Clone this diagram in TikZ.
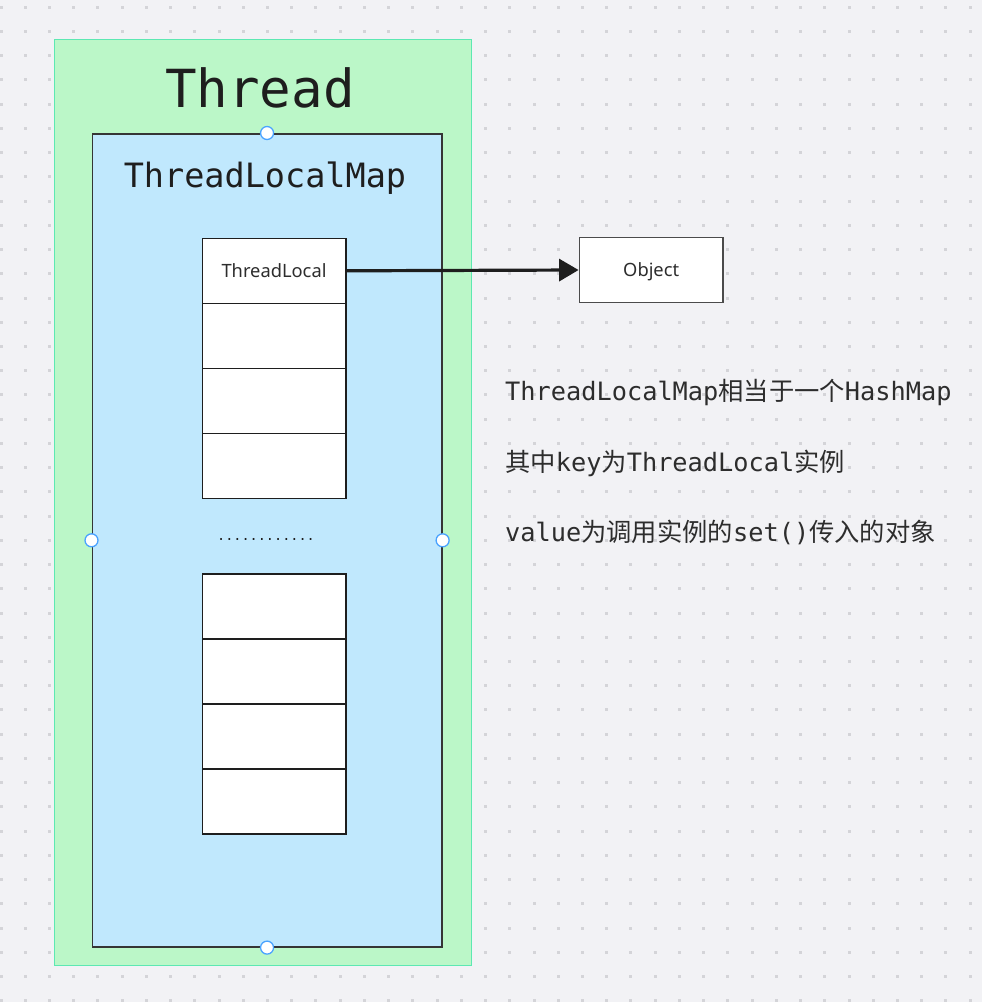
\documentclass[tikz,border=0pt]{standalone}
\usepackage{fontspec}
\setmainfont{Noto Sans}
\setmonofont{DejaVu Sans Mono}
\newfontfamily\cjk{Noto Sans CJK SC}
\usetikzlibrary{arrows.meta}
\definecolor{bgc}{RGB}{242,242,245}
\definecolor{dotc}{RGB}{212,212,216}
\definecolor{greenfill}{RGB}{187,247,200}
\definecolor{greenline}{RGB}{93,232,178}
\definecolor{bluefill}{RGB}{192,232,253}
\definecolor{handleblue}{RGB}{74,163,255}
\definecolor{ink}{RGB}{30,30,30}
\definecolor{txt}{RGB}{45,45,45}
\tikzset{
  threadbox/.style={draw=greenline, fill=greenfill, line width=1.2pt, rectangle, inner sep=0pt, minimum width=417pt, minimum height=926pt},
  mapbox/.style={draw=ink!90, fill=bluefill, line width=1.6pt, rectangle, inner sep=0pt, minimum width=349.5pt, minimum height=813pt},
  cellbox/.style={draw=ink, fill=white, line width=1.5pt, rectangle, inner sep=0pt, minimum width=143.5pt, minimum height=65pt, text depth=0pt, font=\fontsize{18.3}{22}\selectfont, text=txt},
  objbox/.style={draw=ink!80, fill=white, line width=1.5pt, rectangle, inner sep=0pt, minimum width=143.7pt, minimum height=64.6pt, text depth=0pt, font=\fontsize{18.3}{22}\selectfont, text=txt},
  handle/.style={circle, draw=handleblue, fill=white, line width=1.3pt, minimum size=13pt, inner sep=0pt},
  arrowline/.style={draw=ink, line width=3.2pt, -{Triangle[length=19.5pt,width=22pt]}},
  notetext/.style={anchor=base west, inner sep=0pt, text=txt, font=\ttfamily\fontsize{25.3}{30}\selectfont},
}
\begin{document}
\begin{tikzpicture}[x=1pt,y=-1pt]
\useasboundingbox[fill=bgc] (0,0) rectangle (982,1002);
\foreach \i in {0,...,40}{
  \foreach \j in {0,...,41}{
    \fill[dotc] ({1+24.23*\i-1.5},{7.3+24.23*\j-1.5}) rectangle ++(3,3);
  }
}
\node[threadbox, anchor=north west] (thread) at (53.5,39) {};
\node[anchor=base, inner sep=0pt, text=ink, font=\ttfamily\fontsize{52.5}{60}\selectfont] (title) at (260,107) {Thread};
\node[mapbox, anchor=north west] (map) at (91.5,133) {};
\node[anchor=base, inner sep=0pt, text=ink, font=\ttfamily\fontsize{33.5}{40}\selectfont] (maptitle) at (265,187) {ThreadLocalMap};
\node[cellbox] (c1) at (274,270.8) {ThreadLocal};
\node[cellbox] (c2) at (274,335.8) {};
\node[cellbox] (c3) at (274,400.8) {};
\node[cellbox] (c4) at (274,465.8) {};
\node[anchor=base, inner sep=0pt, text=ink, font=\ttfamily\fontsize{13.5}{16}\selectfont] (dots) at (266,540.3) {............};
\node[cellbox] (c5) at (274,606.5) {};
\node[cellbox] (c6) at (274,671.5) {};
\node[cellbox] (c7) at (274,736.5) {};
\node[cellbox] (c8) at (274,801.5) {};
\node[objbox] (obj) at (651.2,270) {Object};
\draw[arrowline] (c1.east) -- (obj.west);
\node[handle] (hn) at (map.north) {};
\node[handle] (hs) at (map.south) {};
\node[handle] (hw) at (map.west) {};
\node[handle] (he) at (map.east) {};
\node[notetext] (note1) at (505,400.5) {ThreadLocalMap{\cjk 相当于一个}HashMap};
\node[notetext] (note2) at (505,471) {{\cjk 其中}key{\cjk 为}ThreadLocal{\cjk 实例}};
\node[notetext] (note3) at (505,541.5) {value{\cjk 为调用实例的}set(){\cjk 传入的对象}};
\end{tikzpicture}
\end{document}
